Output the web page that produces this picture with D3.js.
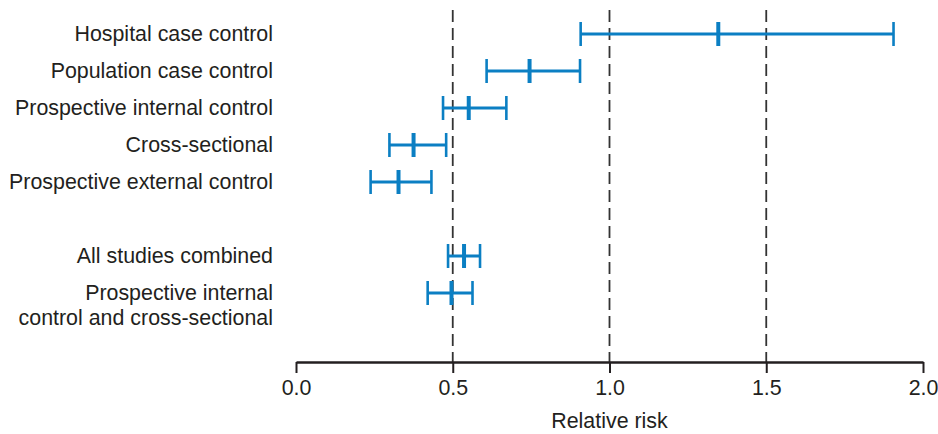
<!DOCTYPE html>
<html>
<head>
<meta charset="utf-8">
<script src="https://cdn.jsdelivr.net/npm/d3@7"></script>
<style>
  html, body { margin: 0; padding: 0; background: #fff; }
  svg { display: block; font-family: "Liberation Sans", Arial, Helvetica, sans-serif; }
</style>
</head>
<body>
<svg id="chart" width="938" height="434"></svg>
<script>
// Study groups, top to bottom ("gap" is the blank spacer row)
const slots = ["hosp", "pop", "pic", "cross", "pec", "gap", "all", "picx"];
const labels = [
  ["Hospital case control"],
  ["Population case control"],
  ["Prospective internal control"],
  ["Cross-sectional"],
  ["Prospective external control"],
  [],
  ["All studies combined"],
  ["Prospective internal", "control and cross-sectional"]
];
// Relative risk estimates with 95% confidence limits
const estimate = [1.347, 0.745, 0.551, 0.375, 0.327, null, 0.536, 0.496];
const lower    = [0.908, 0.608, 0.469, 0.298, 0.238, null, 0.485, 0.420];
const upper    = [1.906, 0.906, 0.671, 0.479, 0.432, null, 0.587, 0.563];
const refLines = [0.5, 1.0, 1.5];
const tickValues = [0, 0.5, 1.0, 1.5, 2.0];

const blue = "#0b7fc3";
const ink = "#231f20";
const fontSize = 21.4;

const svg = d3.select("#chart");
const x = d3.scaleLinear().domain([0, 2]).range([296, 923]);
const y = d3.scalePoint().domain(slots).range([34, 293]);
const axisY = 362;

// dashed reference lines
svg.append("g").selectAll("line").data(refLines).join("line")
  .attr("x1", d => x(d)).attr("x2", d => x(d))
  .attr("y1", 10).attr("y2", axisY)
  .attr("stroke", "#333").attr("stroke-width", 1.8)
  .attr("stroke-dasharray", "12,6");

// x axis
const axis = d3.axisBottom(x).tickValues(tickValues)
  .tickFormat(d3.format(".1f")).tickSize(11).tickSizeOuter(0).tickPadding(7);
const gAxis = svg.append("g").attr("transform", `translate(0,${axisY})`).call(axis);
gAxis.select(".domain").attr("stroke", ink).attr("stroke-width", 2.6);
gAxis.selectAll(".tick line").attr("stroke", ink).attr("stroke-width", 2).attr("y1", 0);
gAxis.selectAll(".tick text").attr("fill", ink).attr("font-size", fontSize)
  .attr("font-family", "Liberation Sans, Arial, sans-serif");

svg.append("text").attr("x", x(1.0)).attr("y", 428)
  .attr("text-anchor", "middle").attr("fill", ink).attr("font-size", fontSize)
  .text("Relative risk");

// row data
const rows = slots.map((s, i) => ({ s, lab: labels[i], est: estimate[i], lo: lower[i], hi: upper[i] }));

// labels
const gLab = svg.append("g");
rows.forEach(r => {
  r.lab.forEach((t, k) => {
    gLab.append("text")
      .attr("x", 273).attr("y", y(r.s) + k * 24.5)
      .attr("dy", "0.33em").attr("text-anchor", "end")
      .attr("fill", ink).attr("font-size", fontSize).text(t);
  });
});

// interval bars
const data = rows.filter(r => r.est !== null);
const capH = 12;
const g = svg.append("g");
g.selectAll("line.ci").data(data).join("line").attr("class", "ci")
  .attr("x1", d => x(d.lo)).attr("x2", d => x(d.hi))
  .attr("y1", d => y(d.s)).attr("y2", d => y(d.s))
  .attr("stroke", blue).attr("stroke-width", 3);
g.selectAll("line.lo").data(data).join("line").attr("class", "lo")
  .attr("x1", d => x(d.lo)).attr("x2", d => x(d.lo))
  .attr("y1", d => y(d.s) - capH).attr("y2", d => y(d.s) + capH)
  .attr("stroke", blue).attr("stroke-width", 2.6);
g.selectAll("line.hi").data(data).join("line").attr("class", "hi")
  .attr("x1", d => x(d.hi)).attr("x2", d => x(d.hi))
  .attr("y1", d => y(d.s) - capH).attr("y2", d => y(d.s) + capH)
  .attr("stroke", blue).attr("stroke-width", 2.6);
g.selectAll("line.est").data(data).join("line").attr("class", "est")
  .attr("x1", d => x(d.est)).attr("x2", d => x(d.est))
  .attr("y1", d => y(d.s) - capH).attr("y2", d => y(d.s) + capH)
  .attr("stroke", blue).attr("stroke-width", 4);
</script>
</body>
</html>
